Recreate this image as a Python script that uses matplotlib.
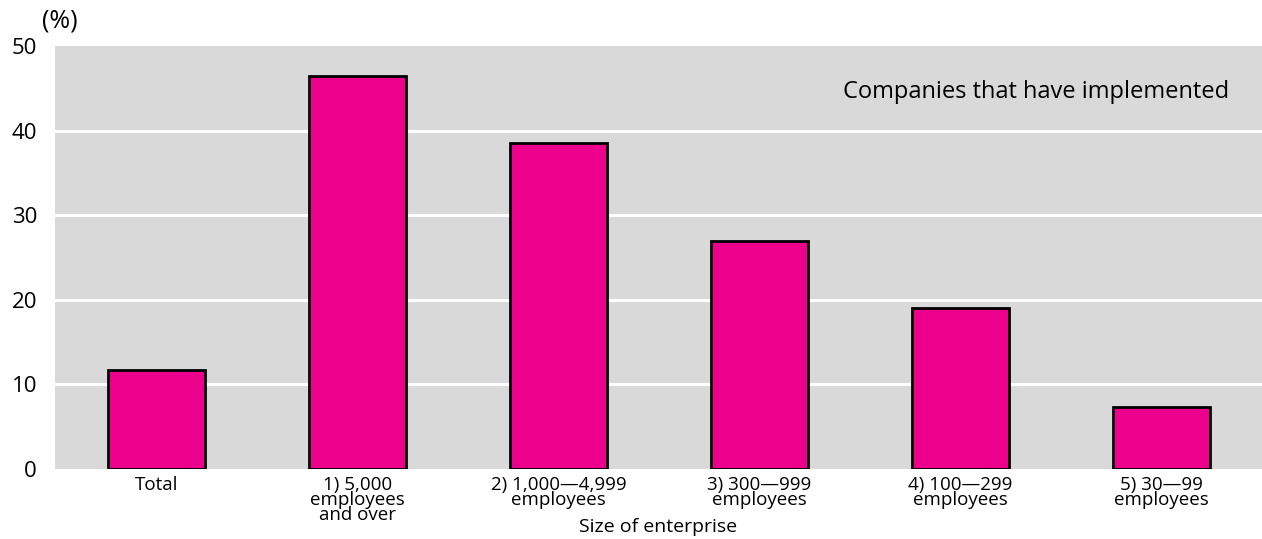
import matplotlib.pyplot as plt

# Share of companies that have implemented, by size of enterprise
categories = ['Total', '1) 5,000\nemployees\nand over', '2) 1,000\u20144,999\nemployees',
              '3) 300\u2014999\nemployees', '4) 100\u2014299\nemployees', '5) 30\u201499\nemployees']
values = [11.7, 46.5, 38.5, 26.9, 19.0, 7.3]
yticks = [0, 10, 20, 30, 40, 50]

plt.rcParams['font.family'] = ['Open Sans', 'DejaVu Sans']

fig = plt.figure(figsize=(12.62, 5.39), dpi=100)
ax = fig.add_axes([55 / 1262, 70 / 539, 1207 / 1262, 423 / 539])
ax.set_facecolor('#d9d9d9')

x = range(len(categories))
ax.bar(x, values, width=0.48, color='#ec008c', edgecolor='black', linewidth=2, zorder=3)

ax.set_xlim(-0.505, 5.5)
ax.set_ylim(0, 50)
ax.set_yticks(yticks)
ax.set_yticklabels([str(t) for t in yticks], fontsize=16)
ax.set_xticks(list(x))
ax.set_xticklabels(categories, fontsize=13.5, linespacing=0.8, va='top')
ax.tick_params(axis='both', length=0)
ax.tick_params(axis='y', pad=13)
ax.tick_params(axis='x', pad=5)

for t in yticks[1:-1]:
    ax.axhline(t, color='white', linewidth=2.2, zorder=1)

for s in ax.spines.values():
    s.set_visible(False)

fig.text((55 + 1262) / 2 / 1262, 7 / 539, 'Size of enterprise', ha='center', va='baseline', fontsize=14)
ax.text(0.973, 0.877, 'Companies that have implemented', transform=ax.transAxes,
        ha='right', va='baseline', fontsize=17)
fig.text(60 / 1262, 1 - 21 / 539, '(%)', ha='center', va='center', fontsize=18)

fig.savefig('out.png', dpi=100)
